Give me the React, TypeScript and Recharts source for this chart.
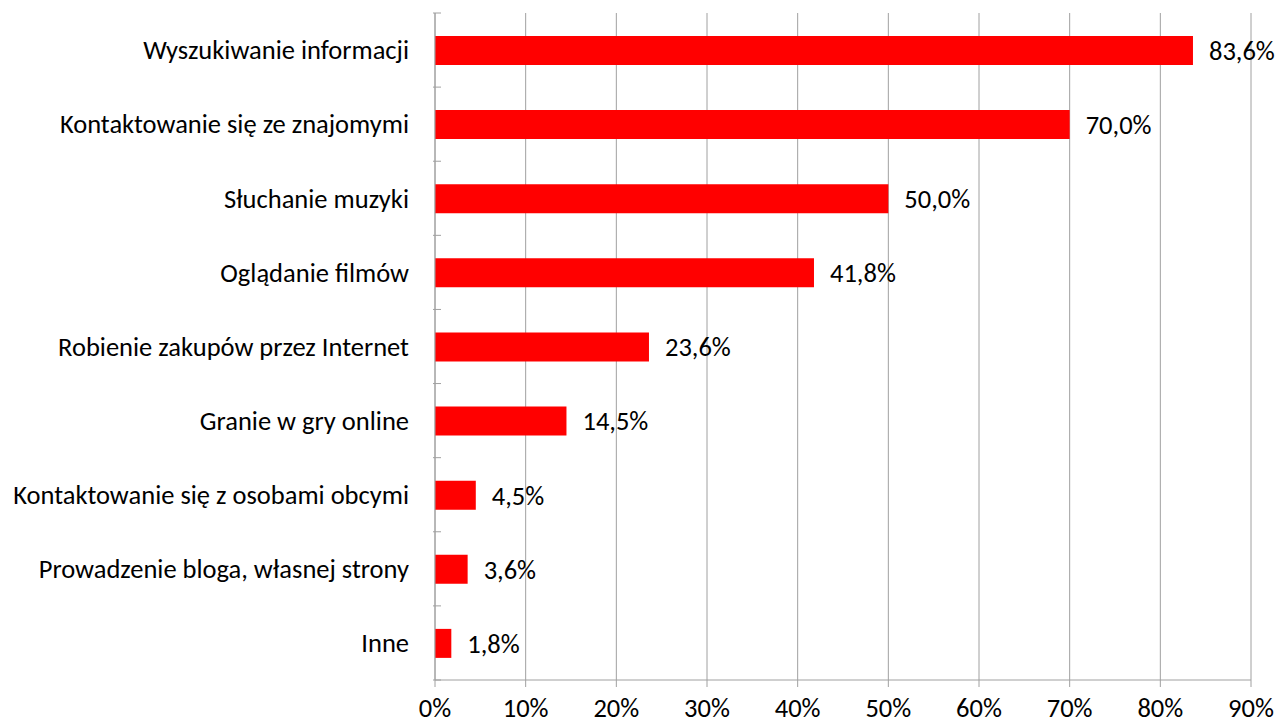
import { BarChart, Bar, XAxis, YAxis, CartesianGrid, LabelList } from "recharts";

const categories = [
  "Wyszukiwanie informacji",
  "Kontaktowanie się ze znajomymi",
  "Słuchanie muzyki",
  "Oglądanie filmów",
  "Robienie zakupów przez Internet",
  "Granie w gry online",
  "Kontaktowanie się z osobami obcymi",
  "Prowadzenie bloga, własnej strony",
  "Inne",
];

const shares = [83.6, 70.0, 50.0, 41.8, 23.6, 14.5, 4.5, 3.6, 1.8];

const xTicks = [0, 10, 20, 30, 40, 50, 60, 70, 80, 90];

const data = categories.map((name, i) => ({ name, value: shares[i] }));

const FONT = "Carlito, 'Open Sans', sans-serif";
const FS = 26.5;
const GRID = "#a0a0a0";
const W = 1277;
const H = 724;
const MARGIN = { top: 13, right: 26, bottom: 0, left: 0 };
const X_AXIS_H = 44;
const PLOT_H = H - MARGIN.top - MARGIN.bottom - X_AXIS_H;
const BAND = PLOT_H / categories.length;

const fmt = (v: number) => `${v.toFixed(1).replace(".", ",")}%`;

function CategoryTick(props: any) {
  const { x, y, payload, index } = props;
  const axisX = x + 8;
  return (
    <g>
      <line x1={axisX - 8} x2={axisX} y1={y - BAND / 2} y2={y - BAND / 2} stroke={GRID} />
      {index === categories.length - 1 && (
        <line x1={axisX - 8} x2={axisX} y1={y + BAND / 2} y2={y + BAND / 2} stroke={GRID} />
      )}
      <text x={axisX - 32} y={y} dy="0.35em" textAnchor="end" fill="#000" fontSize={FS} fontFamily={FONT}>
        {payload.value}
      </text>
    </g>
  );
}

export default function App() {
  return (
    <div style={{ position: "absolute", left: 0, top: 0, background: "#fff" }}>
      <BarChart width={W} height={H} data={data} layout="vertical" margin={MARGIN}>
        <CartesianGrid horizontal={false} stroke={GRID} />
        <XAxis
          type="number"
          domain={[0, 90]}
          ticks={xTicks}
          tickFormatter={(v) => `${v}%`}
          stroke={GRID}
          tickSize={7}
          tickMargin={11}
          height={X_AXIS_H}
          interval={0}
          tick={{ fill: "#000", fontSize: FS, fontFamily: FONT }}
        />
        <YAxis
          type="category"
          dataKey="name"
          width={435}
          stroke={GRID}
          tickLine={false}
          tickSize={0}
          tick={<CategoryTick />}
          interval={0}
        />
        <Bar dataKey="value" fill="#ff0000" barSize={29} isAnimationActive={false}>
          <LabelList
            dataKey="value"
            position="right"
            offset={16}
            formatter={(v: any) => fmt(Number(v))}
            fill="#000"
            fontSize={FS}
            fontFamily={FONT}
          />
        </Bar>
      </BarChart>
    </div>
  );
}
